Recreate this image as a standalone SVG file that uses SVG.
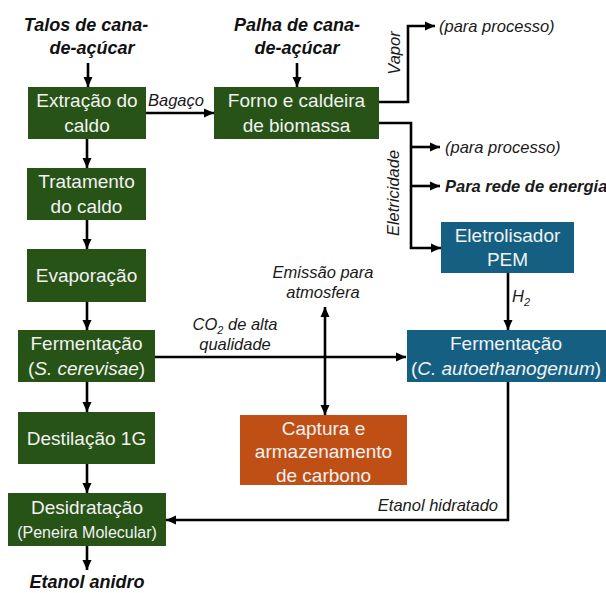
<svg xmlns="http://www.w3.org/2000/svg" width="606" height="593" viewBox="0 0 606 593">
<defs>
<marker id="ah" viewBox="0 0 10 10" refX="10" refY="5" markerWidth="10" markerHeight="10" markerUnits="userSpaceOnUse" orient="auto-start-reverse">
<path d="M0,0.5 L10,5 L0,9.5 Z" fill="#000"/>
</marker>
<style>
.g{fill:#275317}
.b{fill:#156082}
.o{fill:#C04F15}
.bt{font-family:"Liberation Sans",Arial,sans-serif;font-size:19px;fill:#f2f2f2;text-anchor:middle}
.bs{font-size:16px}
.lb{font-family:"Liberation Sans",Arial,sans-serif;font-size:16.5px;font-style:italic;fill:#1a1a1a}
.tt{font-family:"Liberation Sans",Arial,sans-serif;font-size:18px;font-style:italic;font-weight:bold;fill:#111;text-anchor:middle}
.c{fill:none;stroke:#000;stroke-width:2.6;marker-end:url(#ah)}
</style>
</defs>
<rect width="606" height="593" fill="#fff"/>

<g id="inputs">
<text class="tt" x="86" y="31">Talos de cana-</text>
<text class="tt" x="92" y="54">de-açúcar</text>
<text class="tt" x="297" y="31">Palha de cana-</text>
<text class="tt" x="297" y="54">de-açúcar</text>
</g>

<g id="extracao"><rect class="g" x="28" y="87" width="118" height="52"/>
<text class="bt" x="87" y="107">Extração do</text><text class="bt" x="87" y="132">caldo</text></g>
<g id="forno"><rect class="g" x="214" y="87" width="165" height="52"/>
<text class="bt" x="296.5" y="107">Forno e caldeira</text><text class="bt" x="296.5" y="132">de biomassa</text></g>
<g id="tratamento"><rect class="g" x="27" y="168" width="119" height="52"/>
<text class="bt" x="86.5" y="188">Tratamento</text><text class="bt" x="86.5" y="213">do caldo</text></g>
<g id="evaporacao"><rect class="g" x="27" y="249" width="119" height="53"/>
<text class="bt" x="86.5" y="282">Evaporação</text></g>
<g id="fermentacao1"><rect class="g" x="18" y="330" width="137" height="52"/>
<text class="bt" x="86.5" y="350">Fermentação</text><text class="bt" x="86.5" y="375">(<tspan font-style="italic">S. cerevisae</tspan>)</text></g>
<g id="destilacao"><rect class="g" x="18" y="412" width="137" height="52"/>
<text class="bt" x="86.5" y="445">Destilação 1G</text></g>
<g id="desidratacao"><rect class="g" x="8" y="493" width="158" height="53"/>
<text class="bt" x="87" y="514">Desidratação</text><text class="bt bs" x="87" y="538">(Peneira Molecular)</text></g>
<g id="eletrolisador"><rect class="b" x="441" y="222" width="133" height="51"/>
<text class="bt" x="507.5" y="242">Eletrolisador</text><text class="bt" x="507.5" y="266">PEM</text></g>
<g id="fermentacao2"><rect class="b" x="407" y="330" width="199" height="52"/>
<text class="bt" x="506" y="350">Fermentação</text><text class="bt" x="506" y="375">(<tspan font-style="italic">C. autoethanogenum</tspan>)</text></g>
<g id="captura"><rect class="o" x="240" y="415" width="167" height="70"/>
<text class="bt" x="323.5" y="435">Captura e</text><text class="bt" x="323.5" y="458">armazenamento</text><text class="bt" x="323.5" y="482">de carbono</text></g>

<g id="connectors">
<path class="c" d="M88,63 V87"/>
<path class="c" d="M297,63 V87"/>
<path class="c" d="M146,113 H214"/>
<path class="c" d="M379,102 H408 V26 H435"/>
<path class="c" d="M379,123 H411 V248 H441"/>
<path class="c" d="M411,147 H440"/>
<path class="c" d="M411,186 H440"/>
<path class="c" d="M508,273 V330"/>
<path class="c" d="M155,357 H406"/>
<path class="c" d="M325,357 V307"/>
<path class="c" d="M325,357 V415"/>
<path class="c" d="M508,382 V520 H166"/>
<path class="c" d="M87,139 V168"/>
<path class="c" d="M87,220 V249"/>
<path class="c" d="M87,302 V330"/>
<path class="c" d="M87,382 V412"/>
<path class="c" d="M87,464 V493"/>
<path class="c" d="M87,546 V570"/>
</g>

<g id="labels">
<text class="lb" x="176" y="106" text-anchor="middle">Bagaço</text>
<text class="lb" transform="translate(400,53) rotate(-90)" text-anchor="middle">Vapor</text>
<text class="lb" transform="translate(399,193) rotate(-90)" text-anchor="middle">Eletricidade</text>
<text class="lb" x="439" y="32">(para processo)</text>
<text class="lb" x="445" y="153">(para processo)</text>
<text class="lb" x="445" y="192" font-weight="bold" font-size="16">Para rede de energia</text>
<text class="lb" x="512" y="302">H<tspan font-size="11" dy="4">2</tspan></text>
<text class="lb" x="323" y="278" text-anchor="middle">Emissão para</text>
<text class="lb" x="323" y="298" text-anchor="middle">atmosfera</text>
<text class="lb" x="235" y="330" text-anchor="middle">CO<tspan font-size="11" dy="4">2</tspan><tspan dy="-4"> de alta</tspan></text>
<text class="lb" x="235" y="350" text-anchor="middle">qualidade</text>
<text class="lb" x="498" y="511" text-anchor="end">Etanol hidratado</text>
<text class="tt" x="87" y="588">Etanol anidro</text>
</g>
</svg>
